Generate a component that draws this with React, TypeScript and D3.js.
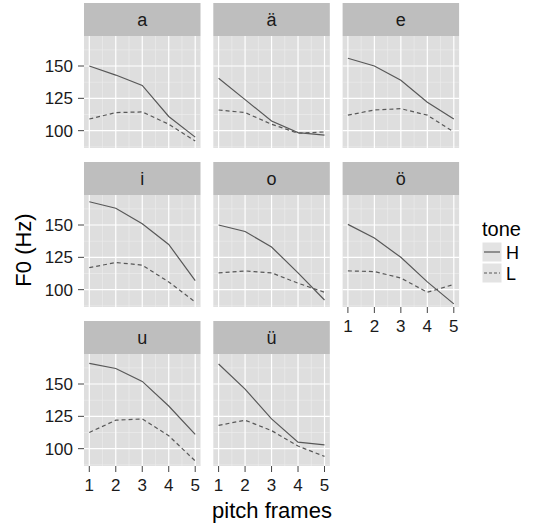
import React from 'react';
import * as d3 from 'd3';

// vowels in facet order, 3 per row
const vowels = ['a', 'ä', 'e', 'i', 'o', 'ö', 'u', 'ü'];
const frames = [1, 2, 3, 4, 5];
const yTicks = [100, 125, 150];
const yMinor = [87.5, 112.5, 137.5, 162.5];
const xMinor = [1.5, 2.5, 3.5, 4.5];
const tones = ['H', 'L'];

// mean F0 per frame, H tone
const toneH = [
  [150, 143, 135, 111, 95],
  [140.5, 124, 107.5, 98.5, 96.5],
  [156, 150, 139, 122, 109],
  [168, 163, 151, 135, 107],
  [150, 145, 133, 113, 92],
  [150.5, 140, 125, 106, 89],
  [166, 162, 152, 133, 111],
  [165.5, 146, 123, 105, 103],
];
// mean F0 per frame, L tone
const toneL = [
  [109, 114, 114.5, 105, 92],
  [116, 114, 105, 98, 99],
  [112, 116, 117, 112, 99],
  [117, 121, 119, 106, 90.5],
  [113, 114.5, 113, 105, 98],
  [114.5, 114, 109, 98, 104],
  [112.5, 122, 123, 110, 90.5],
  [118, 122, 114, 102, 94],
];

const font = '"Liberation Sans", Arial, Helvetica, sans-serif';
const colLeft = [84, 213.3, 342.6];
const rowTop = [3, 162, 321];
const pw = 116.5;
const stripH = 33;
const ph = 112;
const lineCol = '#585858';

export default function App() {
  const x = d3.scaleLinear().domain([0.8, 5.2]).range([0, pw]);
  const y = d3.scaleLinear().domain([86.6, 173.2]).range([ph, 0]);
  const line = d3
    .line<number>()
    .x((d, i) => x(frames[i]))
    .y(d => y(d));

  const panels = vowels.map((v, k) => {
    const col = k % 3;
    const row = Math.floor(k / 3);
    const px = colLeft[col];
    const sy = rowTop[row];
    const py = sy + stripH;
    // x axis drawn on panels with nothing below them
    const showX = k + 3 >= vowels.length;
    const showY = col === 0;
    return (
      <g key={v}>
        <rect x={px} y={sy} width={pw} height={stripH} fill="#BEBEBE" />
        <text x={px + pw / 2} y={sy + stripH / 2 + 6.5} textAnchor="middle" fontSize={18} fill="#1a1a1a">
          {v}
        </text>
        <g transform={`translate(${px},${py})`}>
          <rect width={pw} height={ph} fill="#DEDEDE" />
          {xMinor.map(t => (
            <line key={'xm' + t} x1={x(t)} x2={x(t)} y1={0} y2={ph} stroke="#EFEFEF" strokeWidth={0.6} />
          ))}
          {yMinor.map(t => (
            <line key={'ym' + t} x1={0} x2={pw} y1={y(t)} y2={y(t)} stroke="#EFEFEF" strokeWidth={0.6} />
          ))}
          {frames.map(t => (
            <line key={'x' + t} x1={x(t)} x2={x(t)} y1={0} y2={ph} stroke="#fff" strokeWidth={1.2} />
          ))}
          {yTicks.map(t => (
            <line key={'y' + t} x1={0} x2={pw} y1={y(t)} y2={y(t)} stroke="#fff" strokeWidth={1.2} />
          ))}
          <path d={line(toneL[k]) || ''} fill="none" stroke={lineCol} strokeWidth={1.2} strokeDasharray="4,3" />
          <path d={line(toneH[k]) || ''} fill="none" stroke={lineCol} strokeWidth={1.2} />
          {showY &&
            yTicks.map(t => (
              <g key={'yt' + t}>
                <line x1={-6} x2={0} y1={y(t)} y2={y(t)} stroke="#444" strokeWidth={1} />
                <text x={-11} y={y(t) + 6} textAnchor="end" fontSize={17} fill="#1a1a1a">
                  {t}
                </text>
              </g>
            ))}
          {showX &&
            frames.map(t => (
              <g key={'xt' + t}>
                <line x1={x(t)} x2={x(t)} y1={ph} y2={ph + 6} stroke="#444" strokeWidth={1} />
                <text x={x(t)} y={ph + 24.5} textAnchor="middle" fontSize={17} fill="#1a1a1a">
                  {t}
                </text>
              </g>
            ))}
        </g>
      </g>
    );
  });

  return (
    <svg width={537} height={528} style={{ position: 'absolute', left: 0, top: 0 }} fontFamily={font}>
      <rect width={537} height={528} fill="#fff" />
      {panels}
      <text x={272} y={518} textAnchor="middle" fontSize={22} fill="#000">
        pitch frames
      </text>
      <text transform="translate(31,250) rotate(-90)" textAnchor="middle" fontSize={22} fill="#000">
        F0 (Hz)
      </text>
      <text x={482} y={236} fontSize={20} fill="#000">
        tone
      </text>
      {tones.map((t, i) => (
        <g key={t} transform={`translate(482,${242 + i * 21})`}>
          <rect width={20} height={20} fill="#E3E3E3" stroke="#fff" strokeWidth={1} />
          <line x1={2} x2={18} y1={10} y2={10} stroke={lineCol} strokeWidth={1.2} strokeDasharray={t === 'L' ? '3,2' : undefined} />
          <text x={24} y={17} fontSize={18} fill="#000">
            {t}
          </text>
        </g>
      ))}
    </svg>
  );
}
